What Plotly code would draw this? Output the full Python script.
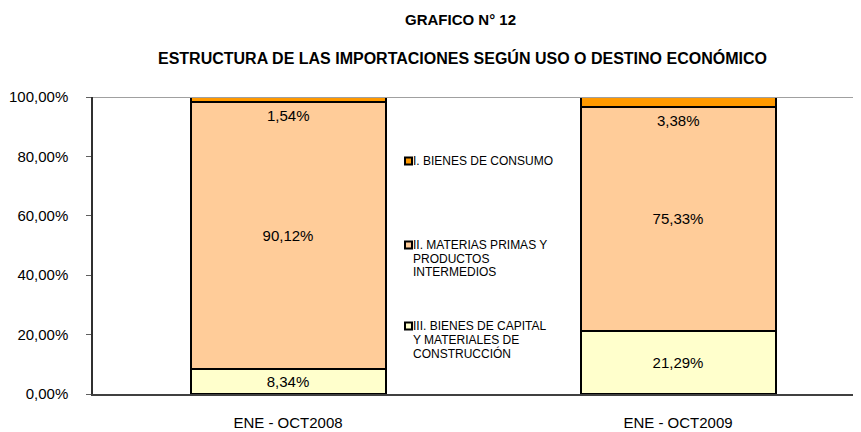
import plotly.graph_objects as go

categories = ["ENE - OCT2008", "ENE - OCT2009"]
series_names = ["I. BIENES DE CONSUMO",
                "II. MATERIAS PRIMAS Y PRODUCTOS INTERMEDIOS",
                "III. BIENES DE CAPITAL Y MATERIALES DE CONSTRUCCIÓN"]
capital = [8.34, 21.29]
materias = [90.12, 75.33]
consumo = [1.54, 3.38]
legend_lines = [["I. BIENES DE CONSUMO"],
                ["II. MATERIAS PRIMAS Y", "PRODUCTOS", "INTERMEDIOS"],
                ["III. BIENES DE CAPITAL", "Y MATERIALES DE", "CONSTRUCCIÓN"]]
y_ticks = [0, 20, 40, 60, 80, 100]
y_tick_text = ["0,00%", "20,00%", "40,00%", "60,00%", "80,00%", "100,00%"]

FONT = "Liberation Sans, Arial, sans-serif"
C_CONS = "#FF9900"
C_MAT = "#FFCC99"
C_CAP = "#FFFFCC"

OFF = 8  # page body margin offset
W, H = 861 - OFF, 432 - OFF
L, R, T, B = 93 - OFF, 0, 97 - OFF, 38
PW, PH = W - L - R, H - T - B


def px(xp):
    return (xp - OFF - L) / PW


def py(yp):
    return (H - B - (yp - OFF)) / PH


fig = go.Figure()
fig.add_trace(go.Bar(x=categories, y=capital, name=series_names[2],
                     marker=dict(color=C_CAP, line=dict(color="black", width=2)),
                     texttemplate="%{y:.2f}%", textposition="inside",
                     insidetextanchor="middle",
                     textfont=dict(family=FONT, size=15, color="black")))
fig.add_trace(go.Bar(x=categories, y=materias, name=series_names[1],
                     marker=dict(color=C_MAT, line=dict(color="black", width=2)),
                     texttemplate="%{y:.2f}%", textposition="inside",
                     insidetextanchor="middle",
                     textfont=dict(family=FONT, size=15, color="black")))
fig.add_trace(go.Bar(x=categories, y=consumo, name=series_names[0],
                     marker=dict(color=C_CONS, line=dict(color="black", width=2)),
                     textposition="none"))

annotations = []
for c, cap, mat, con in zip(categories, capital, materias, consumo):
    annotations.append(dict(x=c, y=cap + mat, xref="x", yref="y",
                            text=f"{con:.2f}%".replace(".", ","), showarrow=False,
                            yanchor="middle", yshift=-13.5,
                            font=dict(family=FONT, size=15, color="black")))

annotations.append(dict(x=px(460), y=py(20), xref="paper", yref="paper", showarrow=False,
                        text="<b>GRAFICO N° 12</b>", xanchor="center", yanchor="middle",
                        font=dict(family=FONT, size=15, color="black")))
annotations.append(dict(x=px(462), y=py(58), xref="paper", yref="paper", showarrow=False,
                        text="<b>ESTRUCTURA DE LAS IMPORTACIONES SEGÚN USO O DESTINO ECONÓMICO</b>",
                        xanchor="center", yanchor="middle",
                        font=dict(family=FONT, size=16, color="black")))

shapes = []
legend_colors = [C_CONS, C_MAT, C_CAP]
legend_first_y = [161, 245, 326]
line_gap = 13.7
for lines, col, y0 in zip(legend_lines, legend_colors, legend_first_y):
    shapes.append(dict(type="rect", xref="paper", yref="paper",
                       x0=px(405), x1=px(412), y0=py(y0 - 3.5), y1=py(y0 + 3.5),
                       fillcolor=col, line=dict(color="black", width=2)))
    for i, ln in enumerate(lines):
        annotations.append(dict(x=px(411), y=py(y0 + i * line_gap), xref="paper", yref="paper",
                                text=ln, showarrow=False, xanchor="left", yanchor="middle",
                                font=dict(family=FONT, size=12, color="black")))

shapes.append(dict(type="line", xref="paper", yref="y", x0=0, x1=1, y0=100, y1=100,
                   line=dict(color="#A0A0A0", width=2)))

fig.update_layout(
    width=W, height=H, barmode="stack", bargap=0.5,
    separators=",.",
    paper_bgcolor="white", plot_bgcolor="white",
    margin=dict(l=L, r=R, t=T, b=B, pad=0),
    showlegend=False,
    font=dict(family=FONT, size=15, color="black"),
    annotations=annotations, shapes=shapes,
    xaxis=dict(range=[-0.5, -0.5 + PW / 390.0], showgrid=False, showline=True,
               linecolor="#404040", linewidth=1.5, ticks="", ticklabelstandoff=14,
               tickfont=dict(family=FONT, size=15, color="black"), zeroline=False),
    yaxis=dict(range=[0, 100], tickvals=y_ticks, ticktext=y_tick_text,
               showgrid=False, showline=True, linecolor="#303030", linewidth=1.5,
               ticks="outside", ticklen=5, tickcolor="#606060", tickwidth=1,
               ticklabelstandoff=15, zeroline=False,
               tickfont=dict(family=FONT, size=15, color="black")),
)

fig.write_html("out.html")
